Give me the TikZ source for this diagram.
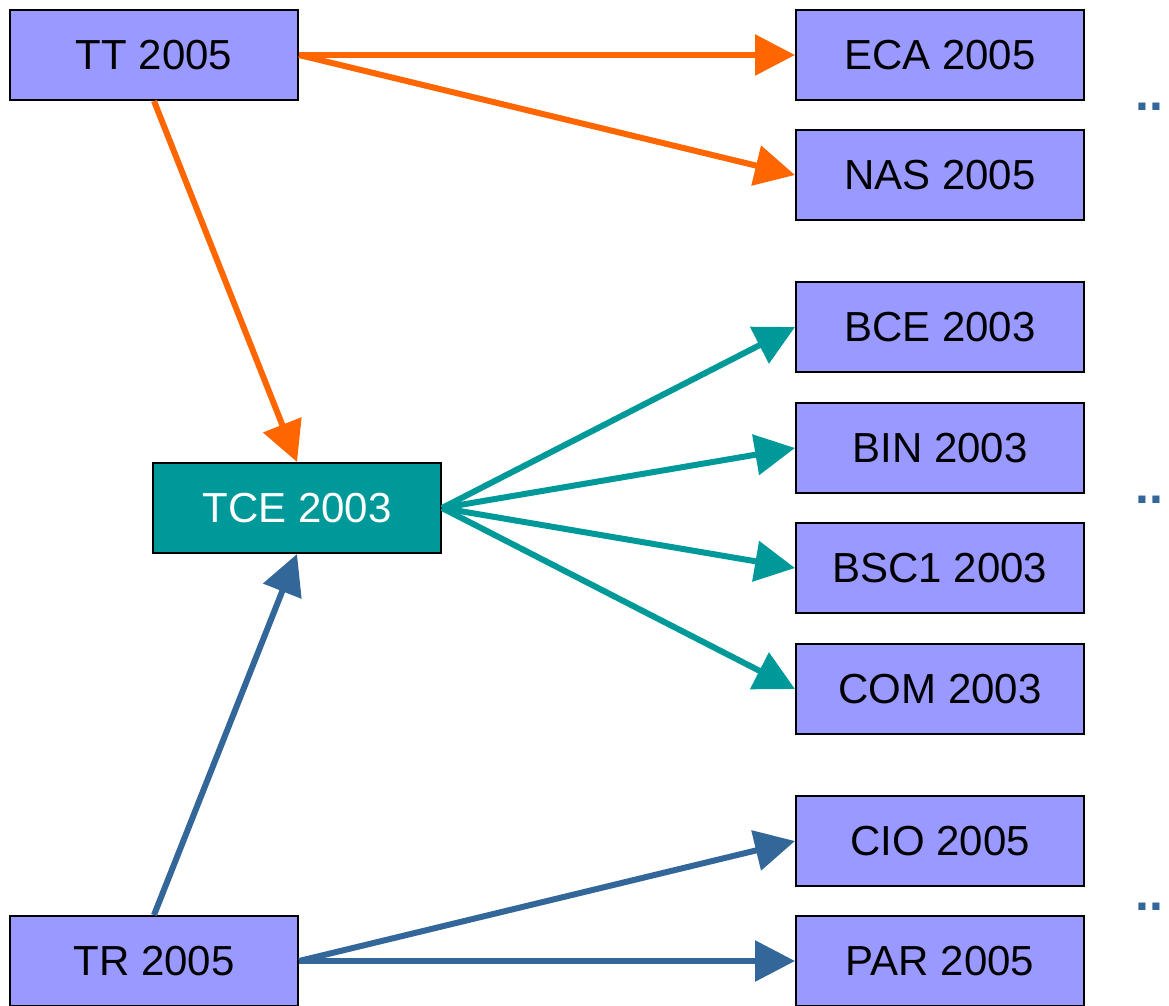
\documentclass[tikz,border=0pt]{standalone}
\usepackage{fontspec}
\setmainfont{Liberation Sans}
\usetikzlibrary{arrows.meta}
\definecolor{boxblue}{HTML}{9999FF}
\definecolor{teal}{HTML}{009999}
\definecolor{orange}{HTML}{FF6600}
\definecolor{steel}{HTML}{336699}
\begin{document}
\begin{tikzpicture}[x=1pt, y=-1pt,
                    box/.style = {shape = rectangle,
                                  fill = boxblue,
                                  draw = black,
                                  line width = 2pt,
                                  inner sep = 0pt,
                                  minimum width = 288pt,
                                  minimum height = 90pt,
                                  font=\fontsize{42}{50}\selectfont},
                    link/.style = {line width = 6pt,
                                   -{Triangle[length=40pt,width=40pt]}},
                    more/.style = {text = steel, inner sep = 0pt, anchor = base west,
                                   font=\fontsize{50}{60}\selectfont\bfseries}]
		\useasboundingbox (0,0) rectangle (1169,1005);
		\node[box] (tt) at (154,55) {TT 2005};
		\node[box] (tr) at (154,961) {TR 2005};
		\node[box, fill = teal, text = white] (tce) at (297,508) {TCE 2003};
		\node[box] (eca) at (940,55) {ECA 2005};
		\node[box] (nas) at (940,175) {NAS 2005};
		\node[box] (bce) at (940,327) {BCE 2003};
		\node[box] (bin) at (940,448) {BIN 2003};
		\node[box] (bsc) at (940,568) {BSC1 2003};
		\node[box] (com) at (940,689) {COM 2003};
		\node[box] (cio) at (940,841) {CIO 2005};
		\node[box] (par) at (940,961) {PAR 2005};
		\node[more] (dots1) at (1135,110) {..};
		\node[more] (dots2) at (1135,503) {..};
		\node[more] (dots3) at (1135,910) {..};
		\path[link, orange] (tt.east) edge (eca.west);
		\path[link, orange] (tt.east) edge (nas.west);
		\path[link, orange] (tt.south) edge (tce.north);
		\path[link, steel] (tr.north) edge (tce.south);
		\path[link, steel] (tr.east) edge (cio.west);
		\path[link, steel] (tr.east) edge (par.west);
		\path[link, teal] (tce.east) edge (bce.west);
		\path[link, teal] (tce.east) edge (bin.west);
		\path[link, teal] (tce.east) edge (bsc.west);
		\path[link, teal] (tce.east) edge (com.west);
	\end{tikzpicture}
\end{document}
